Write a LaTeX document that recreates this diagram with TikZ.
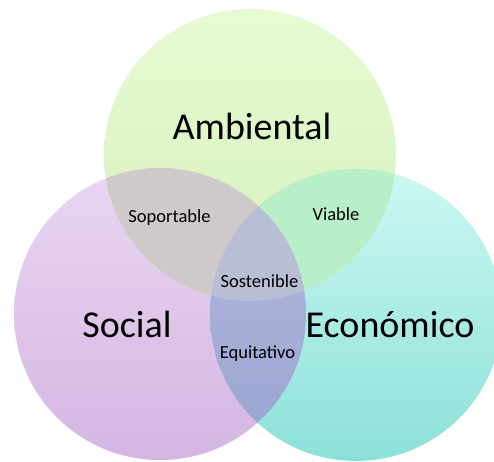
\documentclass[tikz,border=0pt]{standalone}
\usepackage{fontspec}
\setmainfont{Carlito}
\usepackage{tikz}

\definecolor{amb1}{RGB}{231,251,211}
\definecolor{amb2}{RGB}{212,240,186}
\definecolor{soc1}{RGB}{234,214,243}
\definecolor{soc2}{RGB}{212,182,226}
\definecolor{eco1}{RGB}{204,248,243}
\definecolor{eco2}{RGB}{140,224,216}
\definecolor{sop}{RGB}{208,201,201}
\definecolor{via}{RGB}{184,238,200}
\definecolor{equ1}{RGB}{180,186,222}
\definecolor{equ2}{RGB}{152,164,208}
\definecolor{sos}{RGB}{184,190,212}

\begin{document}
\begin{tikzpicture}[
        x=1pt, y=-1pt,
        bigl/.style={anchor=base, inner sep=0pt, font=\fontsize{38}{40}\selectfont},
        smalll/.style={anchor=base, inner sep=0pt, font=\fontsize{18.5}{20}\selectfont}
    ]
        \useasboundingbox (0,0) rectangle (494,461);

        % Circle centres
        \coordinate (amb) at (250,155);
        \coordinate (soc) at (160,314);
        \coordinate (eco) at (356,315);
        \def\rad{146pt}

        % Single circles
        \shade[top color=soc1, bottom color=soc2] (soc) circle[radius=\rad];
        \shade[top color=eco1, bottom color=eco2] (eco) circle[radius=\rad];
        \shade[top color=amb1, bottom color=amb2] (amb) circle[radius=\rad];

        % Overlaps
        \begin{scope}
            \clip (amb) circle[radius=\rad];
            \fill[sop] (soc) circle[radius=\rad];
            \fill[via] (eco) circle[radius=\rad];
        \end{scope}
        \begin{scope}
            \clip (soc) circle[radius=\rad];
            \shade[top color=equ1, bottom color=equ2] (eco) circle[radius=\rad];
            \clip (eco) circle[radius=\rad];
            \fill[sos] (amb) circle[radius=\rad];
        \end{scope}

        % Labels
        \node[bigl] (ambiental) at (252,139) {Ambiental};
        \node[bigl] (social) at (127,337) {Social};
        \node[bigl] (economico) at (390,337) {Económico};
        \node[smalll] (soportable) at (169.5,222) {Soportable};
        \node[smalll] (viable) at (336,220) {Viable};
        \node[smalll] (sostenible) at (259.5,287) {Sostenible};
        \node[smalll] (equitativo) at (257.5,358) {Equitativo};
    \end{tikzpicture}
\end{document}
